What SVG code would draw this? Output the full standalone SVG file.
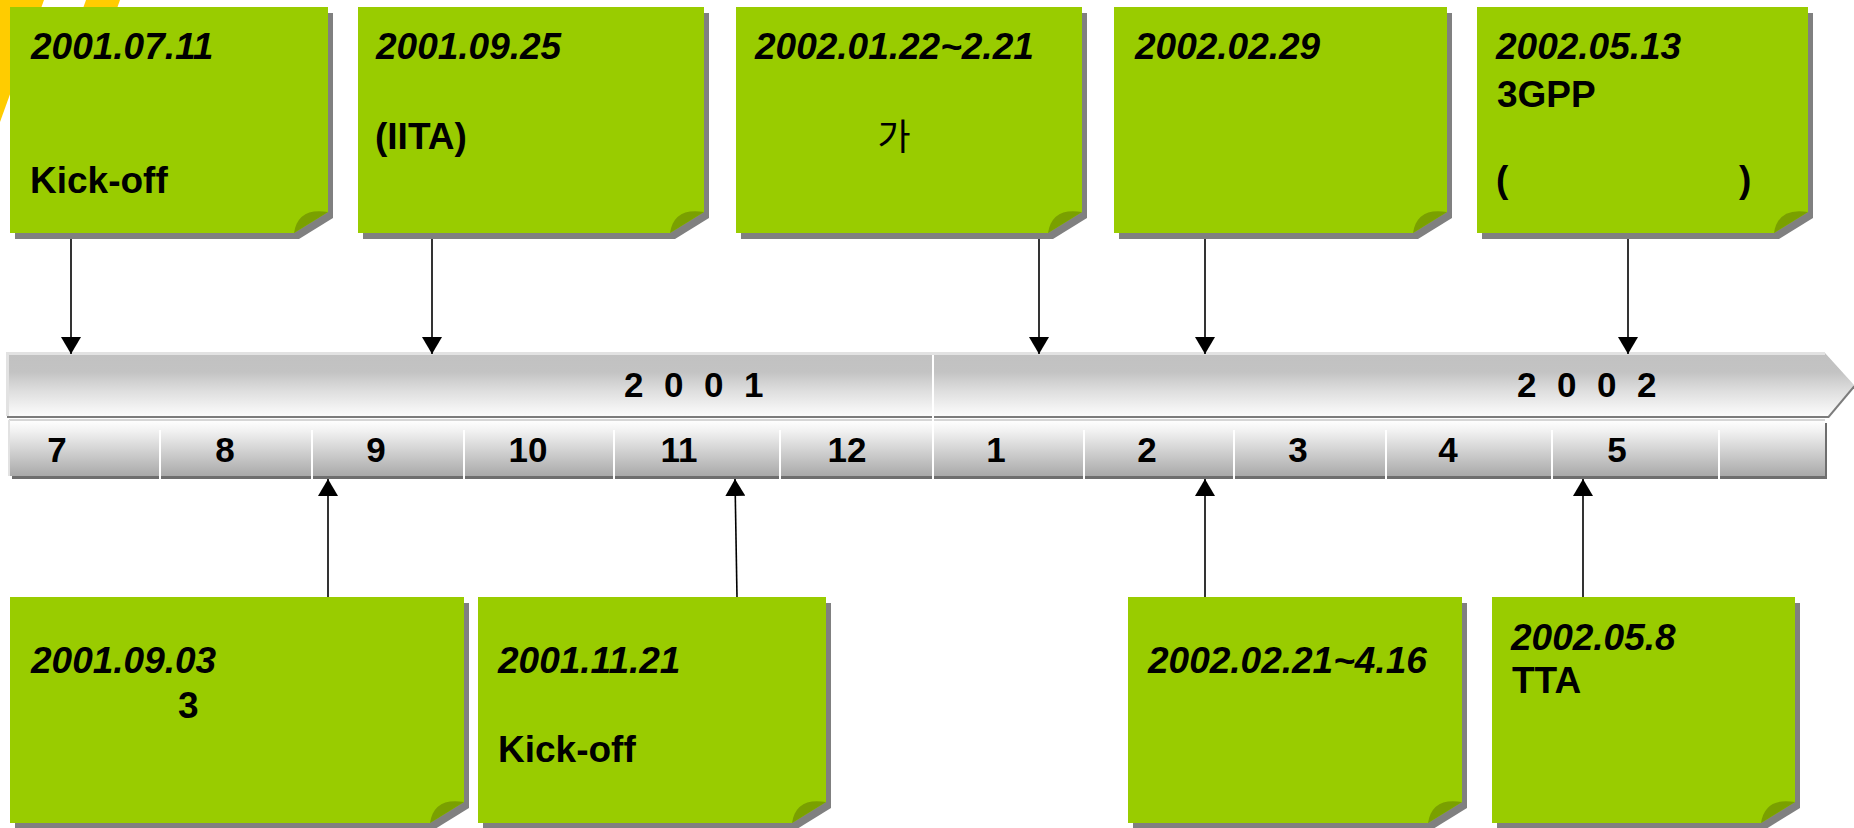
<svg xmlns="http://www.w3.org/2000/svg" width="1854" height="828" viewBox="0 0 1854 828">
<style>
.box{fill:#99cc00}
.shadow{fill:#808080}
.flap{fill:#7aa000}
.d{font-family:"Liberation Sans",Arial,sans-serif;font-weight:bold;font-style:italic;font-size:37px;fill:#000}
.t{font-family:"Liberation Sans",Arial,sans-serif;font-weight:bold;font-size:37px;fill:#000}
.k{font-family:"Liberation Sans","Noto Sans CJK KR",sans-serif;font-size:36px;fill:#000}
.m{font-family:"Liberation Sans",Arial,sans-serif;font-weight:bold;font-size:35px;fill:#000;text-anchor:middle}
.y{font-family:"Liberation Sans",Arial,sans-serif;font-weight:bold;font-size:35px;fill:#000;letter-spacing:5.4px}
.c{stroke:#000;stroke-width:1.6;fill:none;marker-end:url(#arr)}
.div{stroke:#fff;stroke-width:2}
</style>
<defs>
<linearGradient id="upper" x1="0" y1="0" x2="0" y2="1">
<stop offset="0" stop-color="#c1c1c1"/>
<stop offset="0.3" stop-color="#c3c3c3"/>
<stop offset="0.6" stop-color="#dedede"/>
<stop offset="1" stop-color="#fcfcfc"/>
</linearGradient>
<linearGradient id="month" x1="0" y1="0" x2="0" y2="1">
<stop offset="0" stop-color="#ffffff"/>
<stop offset="0.2" stop-color="#f1f1f1"/>
<stop offset="1" stop-color="#a9a9a9"/>
</linearGradient>
<marker id="arr" viewBox="0 0 17 20" refX="17" refY="10" markerWidth="17" markerHeight="20" markerUnits="userSpaceOnUse" orient="auto">
<path d="M0 0L17 10L0 20Z" fill="#000"/>
</marker>
</defs>
<rect width="1854" height="828" fill="#fff"/>
<g id="decor">
<polygon points="0,0 44,0 0,122" fill="#ffcc00"/>
<polygon points="86,0 120,0 100,56 66,56" fill="#ffcc00"/>
</g>
<g id="timeline">
<polygon points="7,355 1826,355 1855,387 1829,418 7,418" fill="#7c7c7c"/>
<polygon points="7,353 1825,353 1854,385 1828,416 7,416" fill="url(#upper)"/>
<polyline points="7.5,416 7.5,353.5 1825,353.5" fill="none" stroke="#e2e2e2" stroke-width="3"/>
<rect x="12" y="423" width="1815" height="56" fill="#6e6e6e"/>
<rect x="9" y="420" width="1816" height="56" fill="url(#month)"/>
<line x1="9" y1="420" x2="1825" y2="420" stroke="#d6d6d6" stroke-width="2"/>
<line x1="9" y1="420" x2="9" y2="476" stroke="#e2e2e2" stroke-width="2"/>
<line class="div" x1="933" y1="355" x2="933" y2="479"/>
<line class="div" x1="160" y1="430" x2="160" y2="479"/>
<line class="div" x1="312" y1="430" x2="312" y2="479"/>
<line class="div" x1="464" y1="430" x2="464" y2="479"/>
<line class="div" x1="614" y1="430" x2="614" y2="479"/>
<line class="div" x1="780" y1="430" x2="780" y2="479"/>
<line class="div" x1="1084" y1="430" x2="1084" y2="479"/>
<line class="div" x1="1234" y1="430" x2="1234" y2="479"/>
<line class="div" x1="1386" y1="430" x2="1386" y2="479"/>
<line class="div" x1="1552" y1="430" x2="1552" y2="479"/>
<line class="div" x1="1719" y1="430" x2="1719" y2="479"/>
<text class="y" x="624" y="397">2 0 0 1</text>
<text class="y" x="1517" y="397">2 0 0 2</text>
<text class="m" x="57" y="462">7</text>
<text class="m" x="225" y="462">8</text>
<text class="m" x="376" y="462">9</text>
<text class="m" x="528" y="462">10</text>
<text class="m" x="679" y="462">11</text>
<text class="m" x="847" y="462">12</text>
<text class="m" x="996" y="462">1</text>
<text class="m" x="1147" y="462">2</text>
<text class="m" x="1298" y="462">3</text>
<text class="m" x="1448" y="462">4</text>
<text class="m" x="1617" y="462">5</text>
</g>
<g id="connectors">
<path class="c" d="M71 233V354"/>
<path class="c" d="M432 233V354"/>
<path class="c" d="M1039 233V354"/>
<path class="c" d="M1205 233V354"/>
<path class="c" d="M1628 233V354"/>
<path class="c" d="M328 597V479"/>
<path class="c" d="M737 597L735 479"/>
<path class="c" d="M1205 597V479"/>
<path class="c" d="M1583 597V479"/>
</g>
<g id="n1">
<path class="shadow" transform="translate(5,6)" d="M10 7H328V212L294 233H10Z"/>
<path class="box" d="M10 7H328V212L294 233H10Z"/>
<path class="flap" d="M328 212L294 233Q298 207 328 212Z"/>
<text class="d" x="31" y="59">2001.07.11</text>
<text class="t" x="30" y="193">Kick-off</text>
</g>
<g id="n2">
<path class="shadow" transform="translate(5,6)" d="M358 7H704V212L670 233H358Z"/>
<path class="box" d="M358 7H704V212L670 233H358Z"/>
<path class="flap" d="M704 212L670 233Q674 207 704 212Z"/>
<text class="d" x="376" y="59">2001.09.25</text>
<text class="t" x="375" y="149">(IITA)</text>
</g>
<g id="n3">
<path class="shadow" transform="translate(5,6)" d="M736 7H1082V212L1048 233H736Z"/>
<path class="box" d="M736 7H1082V212L1048 233H736Z"/>
<path class="flap" d="M1082 212L1048 233Q1052 207 1082 212Z"/>
<text class="d" x="755" y="59">2002.01.22~2.21</text>
<text class="k" x="894" y="150" text-anchor="middle">가</text>
</g>
<g id="n4">
<path class="shadow" transform="translate(5,6)" d="M1114 7H1447V212L1413 233H1114Z"/>
<path class="box" d="M1114 7H1447V212L1413 233H1114Z"/>
<path class="flap" d="M1447 212L1413 233Q1417 207 1447 212Z"/>
<text class="d" x="1135" y="59">2002.02.29</text>
</g>
<g id="n5">
<path class="shadow" transform="translate(5,6)" d="M1477 7H1808V212L1774 233H1477Z"/>
<path class="box" d="M1477 7H1808V212L1774 233H1477Z"/>
<path class="flap" d="M1808 212L1774 233Q1778 207 1808 212Z"/>
<text class="d" x="1496" y="59">2002.05.13</text>
<text class="t" x="1497" y="107">3GPP</text>
<text class="t" y="192"><tspan x="1496">(</tspan><tspan x="1739">)</tspan></text>
</g>
<g id="n6">
<path class="shadow" transform="translate(5,6)" d="M10 597H464V802L430 823H10Z"/>
<path class="box" d="M10 597H464V802L430 823H10Z"/>
<path class="flap" d="M464 802L430 823Q434 797 464 802Z"/>
<text class="d" x="31" y="673">2001.09.03</text>
<text class="t" x="178" y="718">3</text>
</g>
<g id="n7">
<path class="shadow" transform="translate(5,6)" d="M478 597H826V802L792 823H478Z"/>
<path class="box" d="M478 597H826V802L792 823H478Z"/>
<path class="flap" d="M826 802L792 823Q796 797 826 802Z"/>
<text class="d" x="498" y="673">2001.11.21</text>
<text class="t" x="498" y="762">Kick-off</text>
</g>
<g id="n8">
<path class="shadow" transform="translate(5,6)" d="M1128 597H1462V802L1428 823H1128Z"/>
<path class="box" d="M1128 597H1462V802L1428 823H1128Z"/>
<path class="flap" d="M1462 802L1428 823Q1432 797 1462 802Z"/>
<text class="d" x="1148" y="673">2002.02.21~4.16</text>
</g>
<g id="n9">
<path class="shadow" transform="translate(5,6)" d="M1492 597H1795V802L1761 823H1492Z"/>
<path class="box" d="M1492 597H1795V802L1761 823H1492Z"/>
<path class="flap" d="M1795 802L1761 823Q1765 797 1795 802Z"/>
<text class="d" x="1511" y="650">2002.05.8</text>
<text class="t" x="1512" y="693">TTA</text>
</g>
</svg>
